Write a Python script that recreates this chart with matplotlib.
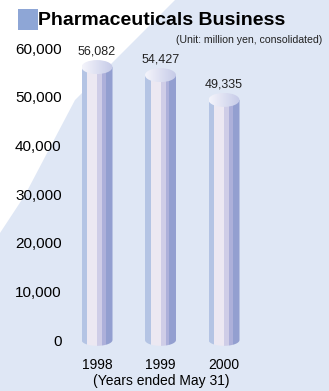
import numpy as np
import matplotlib
matplotlib.use("Agg")
import matplotlib.pyplot as plt
from matplotlib.patches import Rectangle, Ellipse, Polygon, PathPatch
from matplotlib.path import Path

# data
years = ["1998", "1999", "2000"]
sales = [56082, 54427, 49335]
yticks = [0, 10000, 20000, 30000, 40000, 50000, 60000]

W, H = 329, 391
plt.rcParams['font.family'] = ['Liberation Sans', 'DejaVu Sans']

fig = plt.figure(figsize=(W / 100, H / 100), dpi=100)
fig.patch.set_facecolor('#dfe7f5')

# background axes in pixel coords (y down), white wedge in the top-left corner
bg = fig.add_axes([0, 0, 1, 1], zorder=-1)
bg.set_xlim(0, W)
bg.set_ylim(H, 0)
bg.axis('off')
bg.add_patch(Polygon([(0, 0), (175, 0), (75, 100), (25, 195), (0, 233)], closed=True,
                     facecolor='white', edgecolor='none'))
# title icon
bg.add_patch(Rectangle((18, 9), 20, 21, facecolor='#8ea6d6', edgecolor='none'))

fig.text(38 / W, 1 - 25 / H, "Pharmaceuticals Business", fontsize=14, fontweight='bold',
         va='baseline', ha='left')
fig.text(322 / W, 1 - 40 / H, "(Unit: million yen, consolidated)", fontsize=7.6,
         va='center', ha='right', color='#222222')

left, right, top, bottom = 70, 262, 48, 340
ax = fig.add_axes([left / W, 1 - bottom / H, (right - left) / W, (bottom - top) / H])
ax.patch.set_alpha(0)
ppu = 63.5  # pixels per x unit
for s in ax.spines.values():
    s.set_visible(False)
ax.set_yticks(yticks)
ax.set_yticklabels([f"{v:,}" for v in yticks], fontsize=11)
ax.set_xticks(range(len(years)))
ax.set_xticklabels(years, fontsize=10)
ax.tick_params(axis='y', length=0, pad=6)
ax.tick_params(axis='x', length=0, pad=13)

bw = 31 / ppu
eh = 14 / 48.67 * 10000  # ellipse height in data units
stripes = [(0.19, '#b4c4e4'), (0.32, '#ece8f2'), (0.16, '#cfcde7'),
           (0.11, '#adb0da'), (0.22, '#939fd0')]
cmap = matplotlib.colors.LinearSegmentedColormap.from_list('cap', ['#f4f4fb', '#c6cbe8'])

for i, v in enumerate(sales):
    x0 = i - bw / 2
    # clip path: body with rounded bottom
    t = np.linspace(np.pi, 2 * np.pi, 30)
    verts = [(x0, v), (x0, 0)] + [(i + bw / 2 * np.cos(a), eh / 2.4 * np.sin(a)) for a in t] \
        + [(x0 + bw, v), (x0, v)]
    clip = PathPatch(Path(verts), facecolor='none', edgecolor='none')
    ax.add_patch(clip)
    xs = x0
    for frac, col in stripes:
        r = Rectangle((xs, -eh), frac * bw, v + eh, facecolor=col, edgecolor='none')
        ax.add_patch(r)
        r.set_clip_path(clip)
        r.set_clip_box(None)
        xs += frac * bw
    # top cap with gradient
    cap = Ellipse((i, v), bw, eh, facecolor='none', edgecolor='none')
    ax.add_patch(cap)
    grad = np.linspace(0, 1, 50).reshape(1, -1)
    im = ax.imshow(grad, cmap=cmap, extent=[x0, x0 + bw, v - eh / 2, v + eh / 2],
                   aspect='auto', zorder=3)
    im.set_clip_path(cap)
    ax.annotate(f"{v:,}", (i, v), xytext=(0, 7), textcoords='offset points',
                ha='center', va='bottom', fontsize=9, color='#222222')

ax.set_xlim(-(97 - left) / ppu, -(97 - left) / ppu + (right - left) / ppu)
ax.set_ylim(0, 60000)

fig.text(161 / W, 1 - 381 / H, "(Years ended May 31)", fontsize=10, ha='center', va='center')

fig.savefig("out.png", dpi=100, facecolor=fig.get_facecolor())
